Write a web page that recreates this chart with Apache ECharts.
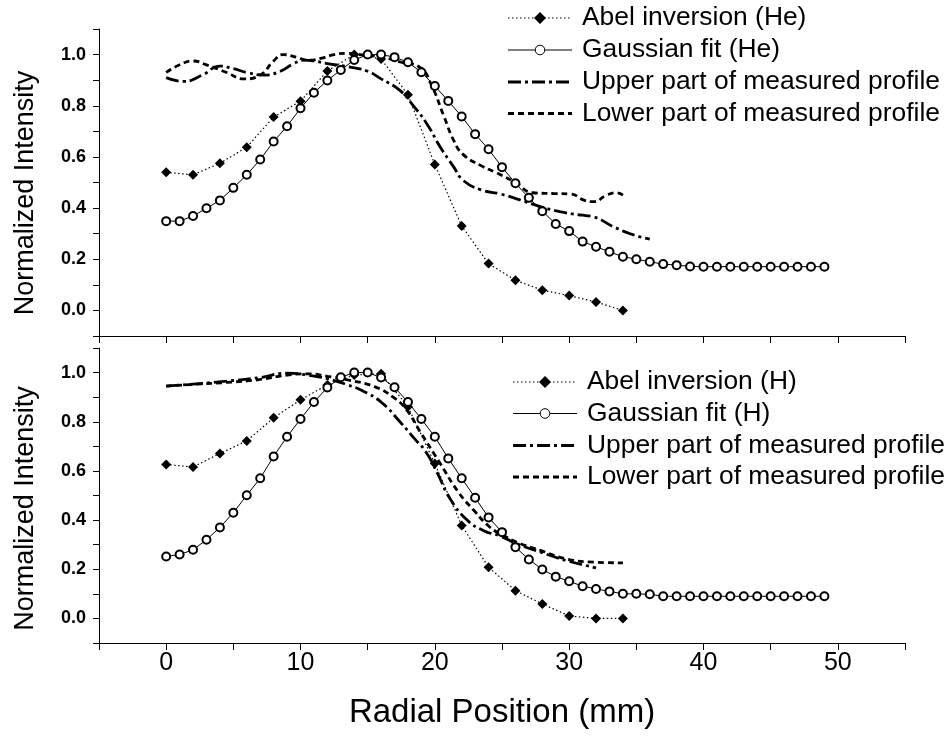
<!DOCTYPE html>
<html>
<head>
<meta charset="utf-8">
<script src="https://cdn.jsdelivr.net/npm/echarts@6.0.0/dist/echarts.min.js"></script>
<style>html,body{margin:0;padding:0;background:#fff;}#c{width:945px;height:738px;}</style>
</head>
<body>
<div id="c"></div>
<script>
// ---------- data ----------
const abelX = [0,2,4,6,8,10,12,14,16,18,20,22,24,26,28,30,32,34];
const abelHe = [0.54,0.53,0.575,0.638,0.756,0.818,0.936,1.0,0.983,0.843,0.57,0.33,0.183,0.118,0.079,0.058,0.033,0.0];
const abelH  = [0.626,0.616,0.671,0.722,0.816,0.889,0.950,0.99,0.995,0.861,0.630,0.378,0.208,0.113,0.059,0.010,0.0,0.0];

const gaussX = [0,1,2,3,4,5,6,7,8,9,10,11,12,13,14,15,16,17,18,19,20,21,22,23,24,25,26,27,28,29,30,31,32,33,34,35,36,37,38,39,40,41,42,43,44,45,46,47,48,49];
const gaussHe = [0.349,0.349,0.369,0.399,0.430,0.479,0.530,0.590,0.660,0.720,0.790,0.851,0.899,0.940,0.979,1.0,1.0,0.99,0.970,0.931,0.877,0.819,0.758,0.689,0.630,0.560,0.497,0.440,0.388,0.338,0.310,0.269,0.249,0.229,0.210,0.200,0.190,0.181,0.177,0.172,0.171,0.171,0.171,0.171,0.171,0.171,0.171,0.171,0.171,0.171];
const gaussH  = [0.252,0.260,0.279,0.320,0.370,0.430,0.501,0.570,0.659,0.739,0.811,0.880,0.939,0.981,1.0,1.0,0.980,0.940,0.880,0.811,0.739,0.651,0.570,0.491,0.411,0.351,0.290,0.240,0.199,0.170,0.151,0.131,0.120,0.110,0.100,0.100,0.098,0.090,0.090,0.090,0.090,0.090,0.090,0.090,0.090,0.090,0.090,0.090,0.090,0.090];

const upperHeX = [0,1.3,2.7,4,5,6,7.3,8.5,9.5,10.3,11,12,13.5,15,16,17.4,18.4,19.4,20.4,21.4,22.1,23.4,24.9,26.4,27.9,29.3,30.8,31.8,33.3,34.8,36];
const upperHeY = [0.91,0.895,0.92,0.955,0.945,0.93,0.92,0.935,0.965,0.978,0.975,0.965,0.953,0.935,0.905,0.86,0.80,0.73,0.639,0.561,0.509,0.472,0.455,0.431,0.405,0.386,0.373,0.366,0.327,0.295,0.279];
const lowerHeX = [0,1,2,3,4.5,5.8,7,8,8.7,9.7,10.5,11.5,12.5,13.5,14.5,16,17.5,18.9,19.7,20.7,21.4,22.1,23.4,24.6,26,27.3,28.8,30.1,31.1,31.8,32.8,33.5,34];
const lowerHeY = [0.93,0.96,0.975,0.96,0.93,0.905,0.92,0.975,1.0,0.99,0.978,0.985,1.0,1.005,1.0,0.99,0.97,0.95,0.886,0.756,0.665,0.61,0.567,0.538,0.50,0.46,0.457,0.455,0.431,0.425,0.451,0.46,0.451];

const upperHX = [0,2,4.5,7,9,10.5,12,13.5,14.5,16,17.4,18.5,19.3,20.2,21.1,22.4,23.6,24.9,26.1,27.9,29.8,31.8,32];
const upperHY = [0.945,0.953,0.965,0.98,0.998,0.99,0.975,0.95,0.929,0.88,0.80,0.73,0.68,0.59,0.49,0.40,0.358,0.334,0.304,0.269,0.235,0.208,0.205];
const lowerHX = [0,2,4.5,7,9,10.5,12,13.5,15.5,16.9,17.9,18.9,20.4,21.8,22.9,24.1,25.2,26.1,27.9,29.8,31.8,34];
const lowerHY = [0.945,0.952,0.96,0.972,0.99,0.995,0.985,0.97,0.943,0.9,0.848,0.76,0.63,0.51,0.44,0.371,0.335,0.31,0.276,0.242,0.229,0.226];

const xLabelValues = [0,10,20,30,40,50];
const yLabelValues = [0,0.2,0.4,0.6,0.8,1.0];

const namesHe = ['Abel inversion (He)','Gaussian fit (He)','Upper part of measured profile','Lower part of measured profile'];
const namesH  = ['Abel inversion (H)','Gaussian fit (H)','Upper part of measured profile','Lower part of measured profile'];

// ---------- helpers ----------
const zip = (xs, ys) => xs.map((x, i) => [x, ys[i]]);
const FONT = 'Liberation Sans, Arial, sans-serif';
const DASH_UPPER = [13, 4, 3, 4];
const DASH_LOWER = [6, 4];
const DOT = [1.5, 2.5];

function xAxisDef(gridIndex, labels) {
  const ax = {
    type: 'value', gridIndex, min: -5, max: 55, interval: 5,
    axisLine: { show: true, onZero: false, lineStyle: { color: '#000', width: 1 } },
    axisTick: { show: true, length: 7, lineStyle: { color: '#000', width: 1 } },
    splitLine: { show: false },
    axisLabel: labels ? { show: true, customValues: xLabelValues, margin: 8, fontFamily: FONT, fontSize: 25, color: '#000' }
                      : { show: false }
  };
  if (labels) {
    ax.name = 'Radial Position (mm)';
    ax.nameLocation = 'middle';
    ax.nameGap = 53;
    ax.nameTextStyle = { fontFamily: FONT, fontSize: 33, color: '#000' };
  }
  return ax;
}
function yAxisDef(gridIndex, pad) {
  return {
    type: 'value', gridIndex, min: -0.1, max: 1.1, interval: 0.1,
    axisLine: { show: true, onZero: false, lineStyle: { color: '#000', width: 1 } },
    axisTick: { show: true, length: 6, lineStyle: { color: '#000', width: 1 } },
    splitLine: { show: false },
    axisLabel: { show: true, customValues: yLabelValues, margin: 13, formatter: v => v.toFixed(1),
      fontFamily: FONT, fontWeight: 'bold', fontSize: 18, color: '#000' },
    name: 'Normalized Intensity', nameLocation: 'middle', nameGap: 60,
    nameTextStyle: { fontFamily: FONT, fontSize: 27, color: '#000', padding: pad }
  };
}

function seriesSet(gi, names, abel, gauss, upX, upY, loX, loY) {
  return [
    { name: names[2], type: 'line', xAxisIndex: gi, yAxisIndex: gi, data: zip(upX, upY),
      smooth: 0.5, symbol: 'none',
      lineStyle: { color: '#000', width: 2.8, type: DASH_UPPER } },
    { name: names[3], type: 'line', xAxisIndex: gi, yAxisIndex: gi, data: zip(loX, loY),
      smooth: 0.5, symbol: 'none',
      lineStyle: { color: '#000', width: 2.8, type: DASH_LOWER } },
    { name: names[0], type: 'line', xAxisIndex: gi, yAxisIndex: gi, data: zip(abelX, abel),
      symbol: 'diamond', symbolSize: 10,
      lineStyle: { color: '#000', width: 1.2, type: DOT }, itemStyle: { color: '#000' } },
    { name: names[1], type: 'line', xAxisIndex: gi, yAxisIndex: gi, data: zip(gaussX, gauss),
      symbol: 'emptyCircle', symbolSize: 8,
      lineStyle: { color: '#000', width: 1 }, itemStyle: { color: '#000' } }
  ];
}

// legend key drawn as graphic elements (line sample + marker + text)
function legendGraphic(x0, yCenters, names) {
  const kids = [];
  const w = 64, cx = x0 + w / 2;
  const styles = [
    { dash: DOT, width: 1.2, marker: 'diamond' },
    { dash: null, width: 1, marker: 'circle' },
    { dash: DASH_UPPER, width: 2.8, marker: null },
    { dash: DASH_LOWER, width: 2.8, marker: null }
  ];
  names.forEach((name, i) => {
    const y = yCenters[i], s = styles[i];
    kids.push({ type: 'line', shape: { x1: x0, y1: y, x2: x0 + w, y2: y },
      style: { stroke: '#000', lineWidth: s.width, lineDash: s.dash || null } });
    if (s.marker === 'diamond') {
      kids.push({ type: 'polygon', shape: { points: [[cx, y - 6], [cx + 6, y], [cx, y + 6], [cx - 6, y]] },
        style: { fill: '#000' } });
    } else if (s.marker === 'circle') {
      kids.push({ type: 'circle', shape: { cx, cy: y, r: 4.8 }, style: { fill: '#fff', stroke: '#000', lineWidth: 1 } });
    }
    kids.push({ type: 'text', x: x0 + w + 10, y,
      style: { text: name, fill: '#000', fontFamily: FONT, fontSize: 26.4, verticalAlign: 'middle', align: 'left' } });
  });
  return { type: 'group', children: kids };
}

const chart = echarts.init(document.getElementById('c'));
chart.setOption({
  animation: false,
  grid: [
    { left: 99, right: 40, top: 29, height: 307 },
    { left: 99, right: 40, top: 348, height: 295 }
  ],
  xAxis: [xAxisDef(0, false), xAxisDef(1, true)],
  yAxis: [yAxisDef(0, [0, 21, 0, 0]), yAxisDef(1, [0, 26, 0, 0])],
  graphic: [
    legendGraphic(508, [18, 50, 82, 113.5], namesHe),
    legendGraphic(513, [382, 413.5, 445.5, 477], namesH)
  ],
  series: [
    ...seriesSet(0, namesHe, abelHe, gaussHe, upperHeX, upperHeY, lowerHeX, lowerHeY),
    ...seriesSet(1, namesH, abelH, gaussH, upperHX, upperHY, lowerHX, lowerHY)
  ]
});
</script>
</body>
</html>
